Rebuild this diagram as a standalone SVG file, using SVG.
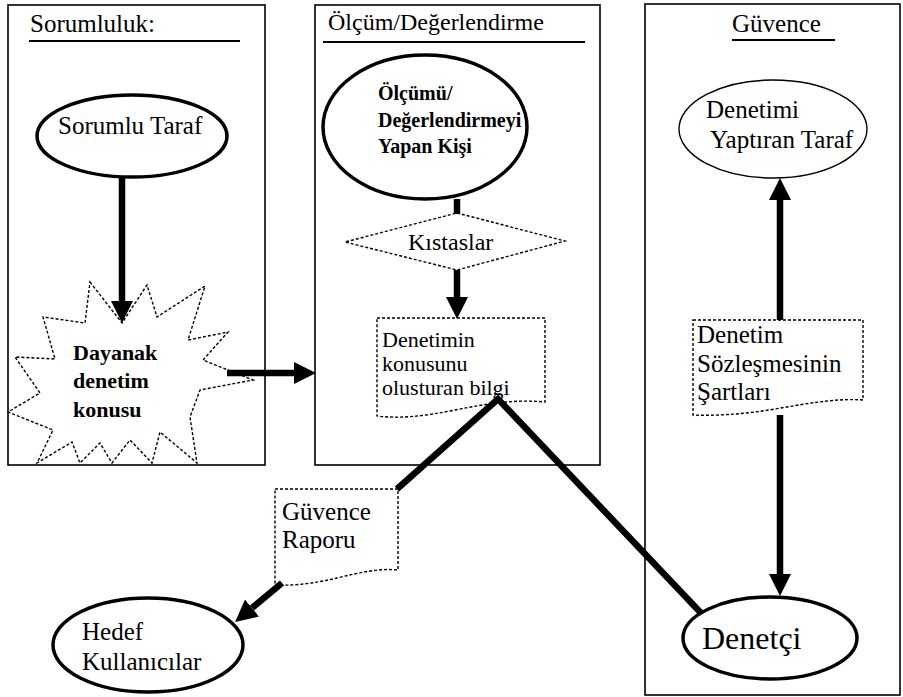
<svg xmlns="http://www.w3.org/2000/svg" width="903" height="697" viewBox="0 0 903 697">
<style>
.t{font-family:'Liberation Serif','Times New Roman','DejaVu Serif',serif;fill:#000}
.b{font-weight:bold}
.box{fill:#fff;stroke:#000;stroke-width:1.6}
.ul{stroke:#000;stroke-width:2.2}
.thick{fill:#fff;stroke:#000;stroke-width:3.5}
.thin{fill:#fff;stroke:#000;stroke-width:1.4}
.dot{fill:#fff;stroke:#000;stroke-width:1.4;stroke-dasharray:3 2}
.con{stroke:#000;stroke-width:6.5;fill:none}
.arr{marker-end:url(#ah)}
</style>
<defs>
<marker id="ah" markerUnits="userSpaceOnUse" markerWidth="24" markerHeight="22" refX="0" refY="11" orient="auto-start-reverse" viewBox="0 0 24 22">
<path d="M0,0 L22,11 L0,22 Z" fill="#000"/>
</marker>
</defs>
<rect width="903" height="697" fill="#fff"/>
<g id="lane-sorumluluk">
<rect class="box" x="8" y="5" width="257" height="460"/>
<text class="t" font-size="25" x="30" y="32">Sorumluluk:</text>
<line class="ul" x1="29" y1="41" x2="240" y2="41"/>
</g>
<g id="lane-olcum">
<rect class="box" x="315" y="5" width="285" height="460"/>
<text class="t" x="328" y="30" font-size="24">Ölçüm/Değerlendirme</text>
<line class="ul" x1="323" y1="42" x2="585" y2="42"/>
</g>
<g id="lane-guvence">
<rect class="box" x="645" y="4" width="255" height="691"/>
<text class="t" font-size="25" x="732" y="32">Güvence</text>
<line class="ul" x1="732" y1="40" x2="835" y2="40"/>
</g>
<g id="sorumlu-taraf">
<ellipse class="thick" cx="132" cy="136" rx="95" ry="41"/>
<text class="t" font-size="25" x="58" y="134">Sorumlu Taraf</text>
</g>
<g id="dayanak">
<polygon class="dot" points="90,282 122,323 147,285 157,317 205,286 188,340 228,332 203,360 253,380 200,390 190,417 197,463 160,432 152,463 130,440 112,463 100,443 80,463 72,442 37,463 53,430 8,412 40,393 15,357 55,359 43,317 85,323"/>
<text class="t b" font-size="22"><tspan x="73" y="360">Dayanak</tspan><tspan x="73" y="388">denetim</tspan><tspan x="73" y="417">konusu</tspan></text>
</g>
<g id="olcum-kisi">
<ellipse class="thick" cx="425" cy="127" rx="102" ry="72"/>
<text class="t b" font-size="20"><tspan x="378" y="100">Ölçümü/</tspan><tspan x="378" y="127">Değerlendirmeyi</tspan><tspan x="378" y="153">Yapan Kişi</tspan></text>
</g>
<g id="kistaslar">
<polygon class="dot" points="457,213 565,241 457,270 345,242"/>
<text class="t" x="408" y="250" font-size="24">Kıstaslar</text>
</g>
<g id="bilgi">
<path class="dot" d="M377,318 H545 V402 C515,399 485,404 455,410 C425,416 400,419 377,416 Z"/>
<text class="t" font-size="22"><tspan x="382" y="347">Denetimin</tspan><tspan x="382" y="371">konusunu</tspan><tspan x="382" y="395">olusturan bilgi</tspan></text>
</g>
<g id="yaptiran">
<ellipse class="thin" cx="773" cy="129" rx="94" ry="49"/>
<text class="t" font-size="25"><tspan x="706" y="118">Denetimi</tspan><tspan x="710" y="148">Yaptıran Taraf</tspan></text>
</g>
<g id="sozlesme">
<path class="dot" d="M693,320 H863 V400 C835,398 805,404 775,409 C745,414 718,416 693,415 Z"/>
<text class="t" font-size="25"><tspan x="697" y="343">Denetim</tspan><tspan x="697" y="372">Sözleşmesinin</tspan><tspan x="697" y="400">Şartları</tspan></text>
</g>
<g id="guvence-raporu">
<path class="dot" d="M275,489 H398 V570 C378,568 358,573 337,578 C316,583 295,586 275,585 Z"/>
<text class="t" font-size="25"><tspan x="282" y="520">Güvence</tspan><tspan x="282" y="548">Raporu</tspan></text>
</g>
<g id="hedef">
<ellipse class="thick" cx="148" cy="645" rx="95" ry="47"/>
<text class="t" font-size="25"><tspan x="82" y="640">Hedef</tspan><tspan x="82" y="670">Kullanıcılar</tspan></text>
</g>
<g id="denetci">
<ellipse class="thick" cx="770" cy="638" rx="87" ry="41"/>
<text class="t" x="702" y="649" font-size="32">Denetçi</text>
</g>
<g id="connectors">
<line class="con arr" x1="122" y1="177" x2="122" y2="301"/>
<line class="con arr" x1="227" y1="373" x2="294" y2="373"/>
<line class="con" x1="457" y1="199" x2="457" y2="214"/>
<line class="con arr" x1="457" y1="270" x2="457" y2="297"/>
<polyline class="con" points="397,489 498,399 701,613"/>
<line class="con arr" x1="282" y1="583" x2="252" y2="608"/>
<line class="con" x1="780" y1="200" x2="780" y2="320" marker-start="url(#ah)"/>
<line class="con" x1="780" y1="415" x2="780" y2="574" marker-end="url(#ah)"/>
</g>
</svg>
